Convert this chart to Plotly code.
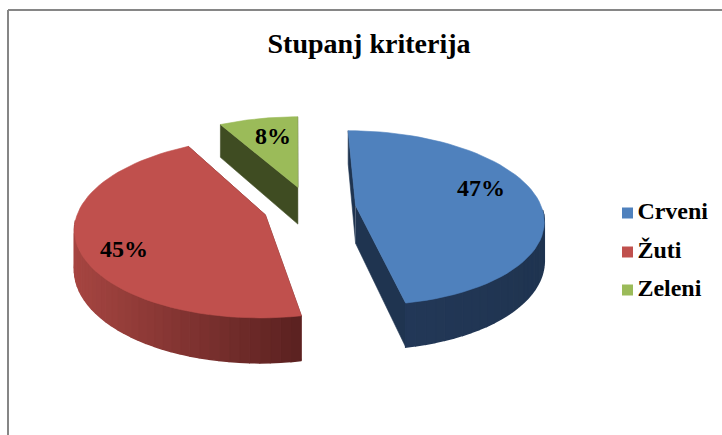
import numpy as np
import plotly.graph_objects as go

# chart data
categories = ['Crveni', 'Žuti', 'Zeleni']
values = [47, 45, 8]
top_colors = ['#4F81BD', '#C0504D', '#9BBB59']
wall_start = ['#24395A', '#A64541', '#3F4C22']
wall_end = ['#1F3450', '#5A2120', '#3F4C22']
side_colors = ['#1F3450', '#6A2A28', '#3F4C22']
label_pos = [(481, 188), (124, 249), (273, 136)]
legend_y = [213, 252, 290]

# projection of the tilted pie, in page pixels
CX, CY = 309.5, 207.5
VX = 296
RX, RY = 186, 86
PERSP = 0.143
DEPTH = 38
EXPLODE = 0.25
LEGEND_X = 627.5


def project(x, y):
    s = 1 / (1 + PERSP * y)
    return VX + (CX - VX + RX * x) * s, CY - RY * y * s, s


def hex_mix(a, b, t):
    ca = [int(a[i:i + 2], 16) for i in (1, 3, 5)]
    cb = [int(b[i:i + 2], 16) for i in (1, 3, 5)]
    return 'rgb({},{},{})'.format(*[round(p + (q - p) * t) for p, q in zip(ca, cb)])


def poly(xs, ys, color, width=0.6):
    return go.Scatter(x=list(xs), y=list(ys), mode='lines', fill='toself', fillcolor=color,
                      line=dict(color=color, width=width), hoverinfo='skip', showlegend=False)


def slice_traces(start, end, i):
    mid = (start + end) / 2
    ox, oy = EXPLODE * np.sin(mid), EXPLODE * np.cos(mid)
    th = np.linspace(start, end, 61)
    rx, ry, rs = project(ox + np.sin(th), oy + np.cos(th))
    ax, ay, a_s = project(ox, oy)
    traces = []
    # the two straight walls
    for k in (0, -1):
        traces.append(poly([ax, rx[k], rx[k], ax], [ay, ry[k], ry[k] + DEPTH * rs[k], ay + DEPTH * a_s],
                           side_colors[i]))
    # outer wall, shaded from left to right
    x_lo, x_hi = rx.min(), rx.max()
    for k in range(len(th) - 1):
        if np.cos(th[k]) < -0.1 or np.cos(th[k + 1]) < -0.1:
            t = ((rx[k] + rx[k + 1]) / 2 - x_lo) / (x_hi - x_lo)
            traces.append(poly([rx[k], rx[k + 1], rx[k + 1], rx[k]],
                               [ry[k], ry[k + 1], ry[k + 1] + DEPTH * rs[k + 1], ry[k] + DEPTH * rs[k]],
                               hex_mix(wall_start[i], wall_end[i], t), width=1.5))
    traces.append(poly(np.r_[ax, rx, ax], np.r_[ay, ry, ay], top_colors[i]))
    return traces


angles = np.cumsum([0] + values) / sum(values) * 2 * np.pi

fig = go.Figure()
# back slice first
for i in [2, 1, 0]:
    fig.add_traces(slice_traces(angles[i], angles[i + 1], i))

# legend: swatch and name drawn together so the gap can follow the original
for name, color, ly in zip(categories, top_colors, legend_y):
    fig.add_trace(go.Scatter(x=[LEGEND_X], y=[ly], mode='markers+text', name=name, text=['\u200a' + name],
                             textposition='middle right', showlegend=False, hoverinfo='skip',
                             marker=dict(symbol='square', size=11, color=color),
                             textfont=dict(family='Liberation Serif', size=24, color='black', weight='bold')))

# percent labels
for value, (lx, ly) in zip(values, label_pos):
    fig.add_annotation(x=lx, y=ly, text='<b>{}%</b>'.format(value), showarrow=False,
                       font=dict(family='Liberation Serif', size=24, color='black'))

fig.update_layout(
    width=722, height=435,
    margin=dict(l=0, r=0, t=0, b=0),
    paper_bgcolor='white', plot_bgcolor='white',
    showlegend=False,
    title=dict(text='<b>Stupanj kriterija</b>', x=369 / 722, xanchor='center', y=1 - 43 / 435, yanchor='middle',
               font=dict(family='Liberation Serif', size=28, color='black')),
    xaxis=dict(range=[0, 722], visible=False, fixedrange=True),
    yaxis=dict(range=[435, 0], visible=False, fixedrange=True),
    shapes=[
        dict(type='line', xref='paper', yref='paper', x0=8 / 722, x1=1, y0=1 - 10 / 435, y1=1 - 10 / 435,
             line=dict(color='#868686', width=2)),
        dict(type='line', xref='paper', yref='paper', x0=8 / 722, x1=8 / 722, y0=0, y1=1 - 10 / 435,
             line=dict(color='#868686', width=2)),
    ],
)

# page margin would push the chart off the window
fig.write_html('out.html', config=dict(displayModeBar=False), post_script="document.body.style.margin='0';")
